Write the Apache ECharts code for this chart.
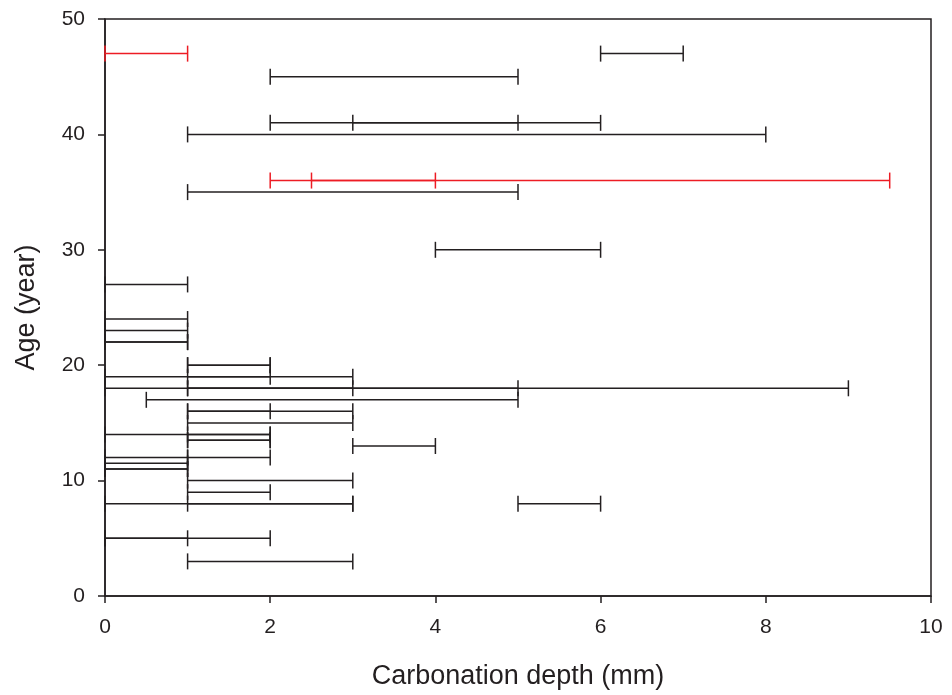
<!DOCTYPE html>
<html>
<head>
<meta charset="utf-8">
<script src="https://cdn.jsdelivr.net/npm/echarts@6/dist/echarts.min.js"></script>
<style>
html,body{margin:0;padding:0;background:#fff;}
#chart{width:952px;height:695px;}
</style>
</head>
<body>
<div id="chart"></div>
<script>
// Black range bars: age (year), lower and upper carbonation depth (mm)
var blackAges  = [47, 45, 41, 41, 40, 35, 30, 27, 24, 23, 22, 22, 20, 20, 19, 19, 18, 18, 18, 17, 16, 16, 15, 14, 14, 13.5, 13.5, 13, 12, 12, 11.5, 11, 11, 10, 9, 8, 8, 8, 5, 5, 3];
var blackLows  = [6,  2,  2,  3,  1,  1,  4,  0,  0,  0,  0,  0,  1,  1,  0,  1,  0,  1,  1,  0.5, 1, 1,  1,  0,  1,  1,    1,    3,  0,  1,  0,    0,  0,  1,  1, 0, 1, 5, 0, 0, 1];
var blackHighs = [7,  5,  5,  6,  8,  5,  6,  1,  1,  1,  1,  1,  2,  2,  2,  3,  5,  3,  9,  5,   2, 3,  3,  2,  2,  2,    2,    4,  1,  2,  1,    1,  1,  3,  2, 3, 3, 6, 1, 2, 3];
// Red range bars
var redAges  = [47, 36, 36];
var redLows  = [0,  2,  2.5];
var redHighs = [1,  4,  9.5];
// Axis ticks
var xTicks = [0, 2, 4, 6, 8, 10];
var yTicks = [0, 10, 20, 30, 40, 50];

function buildData(lows, highs, ages) {
  var d = [];
  for (var i = 0; i < ages.length; i++) d.push([lows[i], highs[i], ages[i]]);
  return d;
}

function makeRender(color) {
  return function (params, api) {
    var lo = api.value(0), hi = api.value(1), age = api.value(2);
    var p1 = api.coord([lo, age]);
    var p2 = api.coord([hi, age]);
    var h = 8;
    var st = {stroke: color, lineWidth: 1.5, fill: null};
    return {
      type: 'group',
      children: [
        {type: 'line', shape: {x1: p1[0], y1: p1[1], x2: p2[0], y2: p2[1]}, style: st},
        {type: 'line', shape: {x1: p1[0], y1: p1[1] - h, x2: p1[0], y2: p1[1] + h}, style: st},
        {type: 'line', shape: {x1: p2[0], y1: p2[1] - h, x2: p2[0], y2: p2[1] + h}, style: st}
      ]
    };
  };
}

var chart = echarts.init(document.getElementById('chart'), null, {renderer: 'canvas'});
var font = 'Liberation Sans, Arial, sans-serif';
var axisCol = '#231f20';

chart.setOption({
  animation: false,
  backgroundColor: '#ffffff',
  grid: {left: 105, right: 21, top: 19, bottom: 98, show: true, borderColor: axisCol, borderWidth: 1.5, backgroundColor: 'transparent'},
  xAxis: {
    type: 'value', min: xTicks[0], max: xTicks[xTicks.length - 1], interval: 2,
    name: 'Carbonation depth (mm)', nameLocation: 'middle', nameGap: 67,
    nameTextStyle: {fontFamily: font, fontSize: 27, color: axisCol},
    axisLine: {show: true, lineStyle: {color: axisCol, width: 1.5}},
    axisTick: {show: true, inside: false, length: 7, lineStyle: {color: axisCol, width: 1.5}},
    axisLabel: {fontFamily: font, fontSize: 21, color: axisCol, margin: 21},
    splitLine: {show: false}
  },
  yAxis: {
    type: 'value', min: yTicks[0], max: yTicks[yTicks.length - 1], interval: 10,
    name: 'Age (year)', nameLocation: 'middle', nameGap: 65, nameRotate: 90,
    nameTextStyle: {fontFamily: font, fontSize: 27, color: axisCol},
    axisLine: {show: true, lineStyle: {color: axisCol, width: 1.5}},
    axisTick: {show: true, inside: false, length: 7, lineStyle: {color: axisCol, width: 1.5}},
    axisLabel: {fontFamily: font, fontSize: 21, color: axisCol, margin: 20},
    splitLine: {show: false}
  },
  series: [
    {
      type: 'custom', name: 'black', renderItem: makeRender('#231f20'),
      encode: {x: [0, 1], y: 2}, clip: false,
      data: buildData(blackLows, blackHighs, blackAges)
    },
    {
      type: 'custom', name: 'red', renderItem: makeRender('#ed1c24'),
      encode: {x: [0, 1], y: 2}, clip: false,
      data: buildData(redLows, redHighs, redAges)
    }
  ]
});
</script>
</body>
</html>
